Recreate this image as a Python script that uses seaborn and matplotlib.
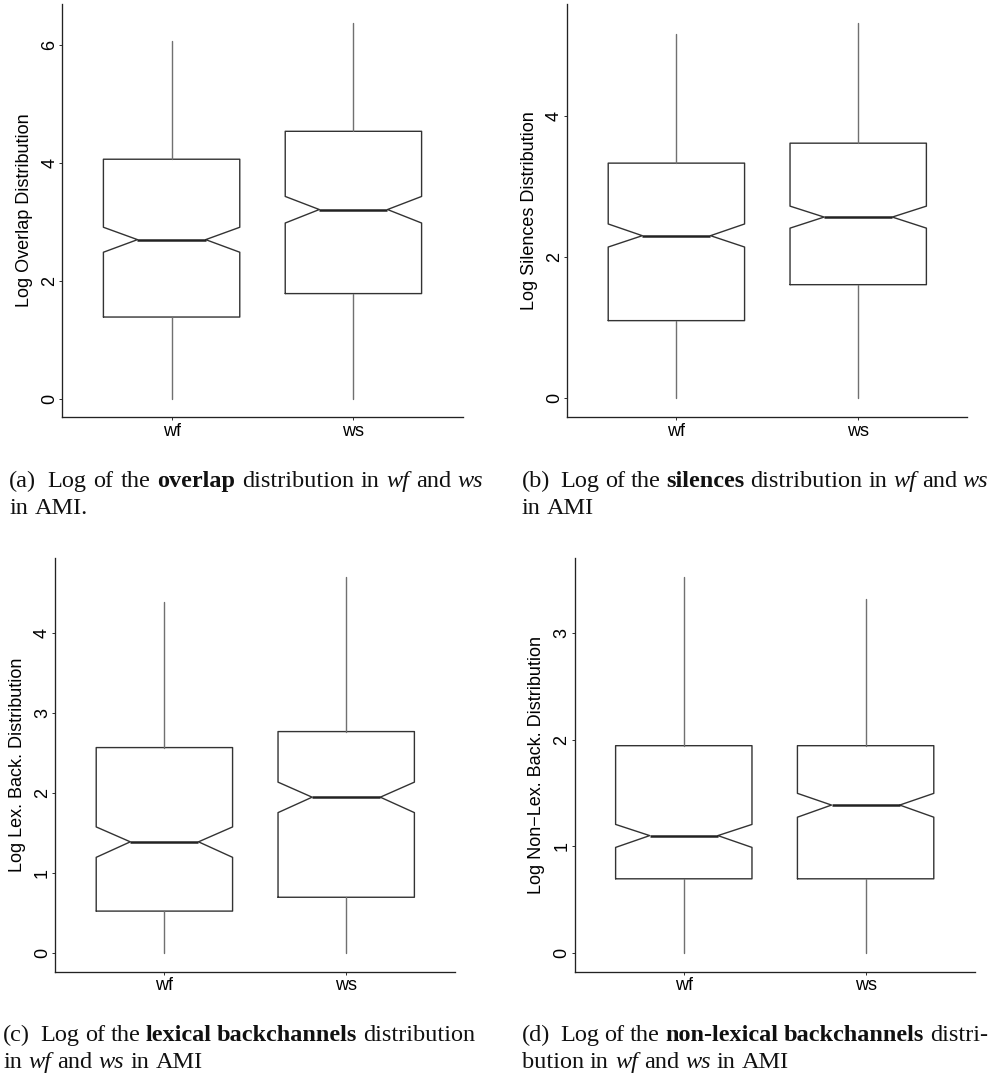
import matplotlib
matplotlib.use("Agg")
import matplotlib.pyplot as plt
from matplotlib.transforms import IdentityTransform
import seaborn as sns

# ---------------- data ----------------
groups = ["wf", "ws"]

overlap_whislo = [0.0, 0.0]
overlap_q1 = [1.386, 1.784]
overlap_med = [2.700, 3.211]
overlap_q3 = [4.065, 4.539]
overlap_whishi = [6.08, 6.375]
overlap_cilo = [2.486, 2.982]
overlap_cihi = [2.910, 3.433]

silences_whislo = [0.0, 0.0]
silences_q1 = [1.099, 1.609]
silences_med = [2.304, 2.568]
silences_q3 = [3.333, 3.616]
silences_whishi = [5.17, 5.32]
silences_cilo = [2.143, 2.411]
silences_cihi = [2.470, 2.723]

lex_whislo = [0.0, 0.0]
lex_q1 = [0.520, 0.693]
lex_med = [1.386, 1.944]
lex_q3 = [2.564, 2.764]
lex_whishi = [4.39, 4.696]
lex_cilo = [1.192, 1.751]
lex_cihi = [1.572, 2.132]

nonlex_whislo = [0.0, 0.0]
nonlex_q1 = [0.693, 0.693]
nonlex_med = [1.099, 1.386]
nonlex_q3 = [1.944, 1.944]
nonlex_whishi = [3.529, 3.327]
nonlex_cilo = [0.988, 1.272]
nonlex_cihi = [1.204, 1.496]

ylabels = ["Log Overlap Distribution", "Log Silences Distribution",
           "Log Lex. Back. Distribution", "Log Non\u2212Lex. Back. Distribution"]
yticks_list = [[0, 2, 4, 6], [0, 2, 4], [0, 1, 2, 3, 4], [0, 1, 2, 3]]
ylims = [(-0.316, 6.70), (-0.272, 5.59), (-0.2375, 4.93), (-0.18, 3.705)]

captions = [
    [[("(a)", "n"), ("Log", "n"), ("of", "n"), ("the", "n"), ("overlap", "b"),
      ("distribution", "n"), ("in", "n"), ("wf", "i"), ("and", "n"), ("ws", "i")],
     [("in", "n"), ("AMI.", "n")]],
    [[("(b)", "n"), ("Log", "n"), ("of", "n"), ("the", "n"), ("silences", "b"),
      ("distribution", "n"), ("in", "n"), ("wf", "i"), ("and", "n"), ("ws", "i")],
     [("in", "n"), ("AMI", "n")]],
    [[("(c)", "n"), ("Log", "n"), ("of", "n"), ("the", "n"), ("lexical", "b"),
      ("backchannels", "b"), ("distribution", "n")],
     [("in", "n"), ("wf", "i"), ("and", "n"), ("ws", "i"), ("in", "n"), ("AMI", "n")]],
    [[("(d)", "n"), ("Log", "n"), ("of", "n"), ("the", "n"), ("non-lexical", "b"),
      ("backchannels", "b"), ("distri-", "n")],
     [("bution", "n"), ("in", "n"), ("wf", "i"), ("and", "n"), ("ws", "i"),
      ("in", "n"), ("AMI", "n")]],
]

panel_stats = [
    (overlap_whislo, overlap_q1, overlap_med, overlap_q3, overlap_whishi, overlap_cilo, overlap_cihi),
    (silences_whislo, silences_q1, silences_med, silences_q3, silences_whishi, silences_cilo, silences_cihi),
    (lex_whislo, lex_q1, lex_med, lex_q3, lex_whishi, lex_cilo, lex_cihi),
    (nonlex_whislo, nonlex_q1, nonlex_med, nonlex_q3, nonlex_whishi, nonlex_cilo, nonlex_cihi),
]

# ---------------- layout (pixels in a 998x1076 image) ----------------
W, H = 998, 1076
axes_px = [  # left, top, width, height
    (62.5, 4.0, 400, 413.3),
    (567.3, 4.0, 400, 413.3),
    (55.3, 558.3, 400, 413.4),
    (574.7, 558.3, 400, 413.4),
]
caption_px = [  # x start, first baseline, justified width
    (9.3, 487.0, 474.0),
    (521.7, 487.0, 466.5),
    (3.3, 1040.7, 471.7),
    (521.7, 1040.7, 466.0),
]
LINE_GAP = 27.0

sns.set_theme(style="ticks")
plt.rcParams["font.family"] = ["Liberation Sans", "DejaVu Sans"]
plt.rcParams["axes.linewidth"] = 0.9

fig = plt.figure(figsize=(W / 100, H / 100), dpi=100)
fig.patch.set_facecolor("white")

for i in range(4):
    l, t, w, h = axes_px[i]
    ax = fig.add_axes([l / W, 1 - (t + h) / H, w / W, h / H])
    ax.set_facecolor("white")
    wl, q1, md, q3, wh, cl, ch = panel_stats[i]
    stats = []
    for g in range(len(groups)):
        stats.append(dict(label=groups[g], whislo=wl[g], q1=q1[g], med=md[g],
                          q3=q3[g], whishi=wh[g], cilo=cl[g], cihi=ch[g], fliers=[]))
    ax.bxp(stats, positions=[1, 2], widths=0.75, shownotches=True,
           showcaps=False, showfliers=False,
           boxprops=dict(color="#333333", linewidth=1.0),
           whiskerprops=dict(color="#707070", linewidth=1.0),
           medianprops=dict(color="#222222", linewidth=1.8))
    ax.set_xlim(0.4, 2.6)
    ax.set_ylim(*ylims[i])
    ax.set_xticks([1, 2])
    ax.set_xticklabels(groups)
    ax.set_yticks(yticks_list[i])
    ax.set_yticklabels([str(v) for v in yticks_list[i]])
    sns.despine(ax=ax)
    for s in ["left", "bottom"]:
        ax.spines[s].set_color("#222222")
        ax.spines[s].set_linewidth(0.95)
    ax.tick_params(axis="both", direction="out", length=2.3, width=0.72,
                   color="#333333", labelsize=13, labelcolor="black")
    ax.tick_params(axis="x", pad=1.5)
    ax.tick_params(axis="y", pad=0.8, labelrotation=90)
    for tl in ax.get_yticklabels():
        tl.set_va("center")
    ax.set_ylabel(ylabels[i], fontsize=13, color="black")
    ax.yaxis.set_label_coords(-0.074, 0.5)
    ax.grid(False)

# ---------------- captions (justified first line) ----------------
renderer = fig.canvas.get_renderer()
CAP_KW = dict(family=["Liberation Serif", "DejaVu Serif"], fontsize=17.5, color="#111111")
STY = {"n": {}, "b": {"fontweight": "bold"}, "i": {"fontstyle": "italic"}}


def measure(s, sty="n"):
    tt = fig.text(0, 0, s, transform=IdentityTransform(), **CAP_KW, **STY[sty])
    wdt = tt.get_window_extent(renderer).width
    tt.remove()
    return wdt


SPACE = measure("x x") - measure("xx")
LABEL_EXTRA = 4.5


def draw_line(words, x0, ybase_img, target=None, labelled=False):
    widths = [measure(wd, st) for wd, st in words]
    gaps = [SPACE] * (len(words) - 1)
    if labelled and gaps:
        gaps[0] += LABEL_EXTRA
    if target is not None and gaps:
        extra = (target - sum(widths) - sum(gaps)) / len(gaps)
        gaps = [g + extra for g in gaps]
    x = x0
    y = H - ybase_img
    for k, (wd, st) in enumerate(words):
        fig.text(x, y, wd, transform=IdentityTransform(), ha="left",
                 va="baseline", **CAP_KW, **STY[st])
        x += widths[k]
        if k < len(gaps):
            x += gaps[k]


for i in range(4):
    x0, yb, tw = caption_px[i]
    line1, line2 = captions[i]
    draw_line(line1, x0, yb, target=tw, labelled=True)
    draw_line(line2, x0, yb + LINE_GAP)

fig.savefig("out.png", dpi=100, facecolor="white")
